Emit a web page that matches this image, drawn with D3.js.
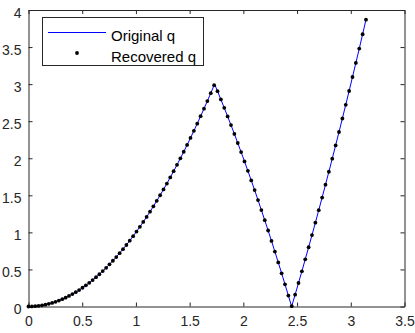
<!DOCTYPE html>
<html>
<head>
<meta charset="utf-8">
<script src="https://cdn.jsdelivr.net/npm/d3@7"></script>
<style>
  body { margin: 0; background: #fff; }
  svg { display: block; font-family: "Liberation Sans", Arial, sans-serif; }
</style>
</head>
<body>
<svg id="chart"></svg>
<script>
const width = 415, height = 333;
const margin = {top: 10, right: 10.5, bottom: 26.5, left: 28.5};

// sample positions (0 .. pi, 101 points) and the q values
const xs = [0.0000,0.0314,0.0628,0.0942,0.1257,0.1571,0.1885,0.2199,0.2513,0.2827,
  0.3142,0.3456,0.3770,0.4084,0.4398,0.4712,0.5027,0.5341,0.5655,0.5969,
  0.6283,0.6597,0.6912,0.7226,0.7540,0.7854,0.8168,0.8482,0.8796,0.9111,
  0.9425,0.9739,1.0053,1.0367,1.0681,1.0996,1.1310,1.1624,1.1938,1.2252,
  1.2566,1.2881,1.3195,1.3509,1.3823,1.4137,1.4451,1.4765,1.5080,1.5394,
  1.5708,1.6022,1.6336,1.6650,1.6965,1.7279,1.7593,1.7907,1.8221,1.8535,
  1.8850,1.9164,1.9478,1.9792,2.0106,2.0420,2.0735,2.1049,2.1363,2.1677,
  2.1991,2.2305,2.2619,2.2934,2.3248,2.3562,2.3876,2.4190,2.4504,2.4819,
  2.5133,2.5447,2.5761,2.6075,2.6389,2.6704,2.7018,2.7332,2.7646,2.7960,
  2.8274,2.8588,2.8903,2.9217,2.9531,2.9845,3.0159,3.0473,3.0788,3.1102,3.1416];
const qRecovered = [0.000,0.001,0.004,0.009,0.016,0.025,0.036,0.048,0.063,0.080,
  0.099,0.119,0.142,0.167,0.193,0.222,0.253,0.285,0.320,0.356,
  0.395,0.435,0.478,0.522,0.569,0.617,0.667,0.720,0.774,0.830,
  0.888,0.949,1.011,1.075,1.141,1.209,1.279,1.351,1.425,1.501,
  1.579,1.659,1.741,1.825,1.911,1.999,2.088,2.180,2.274,2.370,
  2.467,2.567,2.669,2.772,2.878,2.986,2.905,2.793,2.680,2.564,
  2.447,2.328,2.206,2.083,1.957,1.830,1.701,1.570,1.436,1.301,
  1.164,1.025,0.884,0.741,0.595,0.448,0.299,0.148,0.005,0.160,
  0.317,0.475,0.636,0.799,0.964,1.131,1.300,1.470,1.643,1.818,
  1.994,2.173,2.354,2.536,2.721,2.907,3.096,3.286,3.479,3.673,3.870];
// original curve: same samples plus its two corners
const xOriginal = [...xs.slice(0, 56), 1.7321, ...xs.slice(56, 78), 2.4495, ...xs.slice(78)];
const qOriginal = [...qRecovered.slice(0, 56), 3.000, ...qRecovered.slice(56, 78), 0.000, ...qRecovered.slice(78)];

const xTicks = [0, 0.5, 1, 1.5, 2, 2.5, 3, 3.5];
const yTicks = [0, 0.5, 1, 1.5, 2, 2.5, 3, 3.5, 4];
const legendLabels = ["Original q", "Recovered q"];

const svg = d3.select("#chart").attr("width", width).attr("height", height);

const x = d3.scaleLinear().domain([0, 3.5]).range([margin.left, width - margin.right]);
const y = d3.scaleLinear().domain([0, 4]).range([height - margin.bottom, margin.top]);

const axisColor = "#262626";
const tickLen = 4;

// bottom axis
svg.append("g")
    .attr("transform", `translate(0,${height - margin.bottom})`)
    .call(d3.axisBottom(x).tickValues(xTicks).tickFormat(d3.format("")).tickSizeInner(-tickLen).tickSizeOuter(0).tickPadding(10));
// left axis
const gy = svg.append("g")
    .attr("transform", `translate(${margin.left},0)`)
    .call(d3.axisLeft(y).tickValues(yTicks).tickFormat(d3.format("")).tickSizeInner(-tickLen).tickSizeOuter(0).tickPadding(7));
gy.selectAll(".tick text").attr("dy", "0.5em");
// top / right ticks (box)
svg.append("g")
    .attr("transform", `translate(0,${margin.top})`)
    .call(d3.axisTop(x).tickValues(xTicks).tickFormat("").tickSizeInner(-tickLen).tickSizeOuter(0));
svg.append("g")
    .attr("transform", `translate(${width - margin.right},0)`)
    .call(d3.axisRight(y).tickValues(yTicks).tickFormat("").tickSizeInner(-tickLen).tickSizeOuter(0));

svg.selectAll(".domain, .tick line").attr("stroke", axisColor);
svg.selectAll(".tick text").attr("fill", axisColor).attr("font-size", "14px")
    .attr("font-family", "Liberation Sans, Arial, sans-serif");

const line = d3.line().x(d => x(d[0])).y(d => y(d[1]));
svg.append("path")
    .datum(xOriginal.map((v, i) => [v, qOriginal[i]]))
    .attr("d", line)
    .attr("fill", "none")
    .attr("stroke", "#0000ff")
    .attr("stroke-width", 1);

svg.append("g").selectAll("circle")
    .data(xs.map((v, i) => [v, qRecovered[i]]))
    .enter().append("circle")
    .attr("cx", d => x(d[0]))
    .attr("cy", d => y(d[1]))
    .attr("r", 1.9)
    .attr("fill", "#000");

// legend
const lg = svg.append("g");
lg.append("rect")
    .attr("x", 42.5).attr("y", 17.5).attr("width", 161).attr("height", 48)
    .attr("fill", "#fff").attr("stroke", axisColor).attr("stroke-width", 1);
lg.append("line")
    .attr("x1", 48).attr("x2", 106).attr("y1", 32.5).attr("y2", 32.5)
    .attr("stroke", "#0000ff").attr("stroke-width", 1);
lg.append("circle").attr("cx", 77).attr("cy", 53).attr("r", 1.9).attr("fill", "#000");
lg.selectAll("text")
    .data(legendLabels)
    .enter().append("text")
    .attr("x", 111)
    .attr("y", (d, i) => 40.5 + i * 21)
    .attr("font-size", "15px")
    .attr("fill", "#000")
    .text(d => d);
</script>
</body>
</html>
